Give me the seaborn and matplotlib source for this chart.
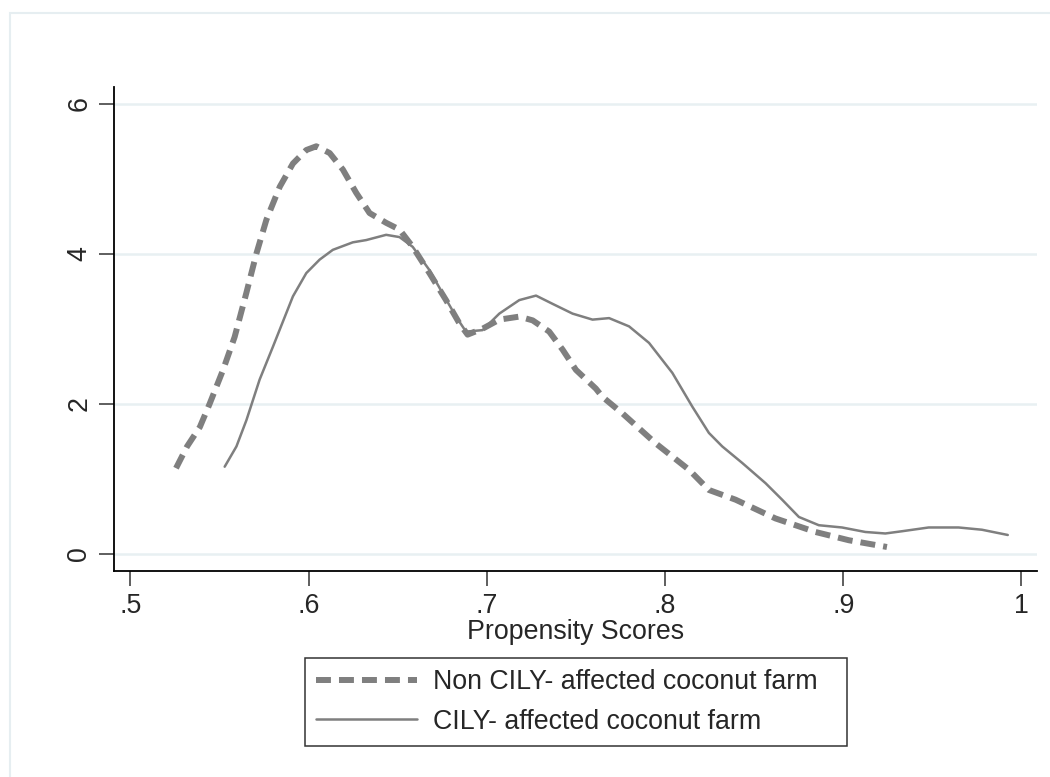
import matplotlib
matplotlib.use("Agg")
import matplotlib.pyplot as plt
import seaborn as sns
import pandas as pd
from matplotlib.patches import Rectangle

# ---- data ----
non_x = [0.5256, 0.5318, 0.5390, 0.5445, 0.5520, 0.5585, 0.5650, 0.5707, 0.5763, 0.5838,
         0.5912, 0.5987, 0.6043, 0.6118, 0.6192, 0.6267, 0.6342, 0.6435, 0.6510, 0.6584,
         0.6678, 0.6771, 0.6846, 0.6892, 0.6977, 0.7070, 0.7182, 0.7257, 0.7350, 0.7425,
         0.7500, 0.7612, 0.7649, 0.7761, 0.7948, 0.8134, 0.8246, 0.8396, 0.8620, 0.8844,
         0.9031, 0.9245]
non_y = [1.14, 1.43, 1.69, 2.00, 2.45, 2.89, 3.47, 4.00, 4.45, 4.89,
         5.20, 5.38, 5.43, 5.34, 5.12, 4.81, 4.54, 4.41, 4.32, 4.09,
         3.74, 3.38, 3.07, 2.92, 3.00, 3.12, 3.16, 3.11, 2.96, 2.72,
         2.45, 2.20, 2.09, 1.87, 1.47, 1.12, 0.85, 0.72, 0.47, 0.29,
         0.18, 0.09]

cily_x = [0.5529, 0.5595, 0.5651, 0.5725, 0.5800, 0.5912, 0.5987, 0.6062, 0.6136, 0.6248,
          0.6323, 0.6435, 0.6510, 0.6584, 0.6678, 0.6752, 0.6827, 0.6883, 0.6976, 0.7070,
          0.7182, 0.7276, 0.7369, 0.7481, 0.7593, 0.7686, 0.7798, 0.7910, 0.8041, 0.8153,
          0.8246, 0.8321, 0.8433, 0.8564, 0.8657, 0.8751, 0.8863, 0.8993, 0.9124, 0.9236,
          0.9330, 0.9479, 0.9647, 0.9778, 0.9923]
cily_y = [1.16, 1.43, 1.78, 2.32, 2.76, 3.43, 3.74, 3.92, 4.05, 4.15,
          4.18, 4.25, 4.22, 4.09, 3.78, 3.47, 3.16, 2.96, 2.98, 3.20,
          3.38, 3.44, 3.33, 3.20, 3.12, 3.14, 3.03, 2.81, 2.41, 1.96,
          1.61, 1.43, 1.21, 0.94, 0.72, 0.49, 0.38, 0.35, 0.29, 0.27,
          0.30, 0.35, 0.35, 0.32, 0.25]

labels = ["Non CILY- affected coconut farm", "CILY- affected coconut farm"]
x_ticks = [0.5, 0.6, 0.7, 0.8, 0.9, 1.0]
x_tick_labels = [".5", ".6", ".7", ".8", ".9", "1"]
y_ticks = [0, 2, 4, 6]
y_tick_labels = ["0", "2", "4", "6"]
x_title = "Propensity Scores"

# ---- styling ----
sns.set_style("white")
plt.rcParams["font.family"] = ["Liberation Sans", "DejaVu Sans"]
FS = 19.3
GRAY = "#7f7f7f"

fig = plt.figure(figsize=(10.5, 7.77), dpi=100)
W, H = 1050, 777
ax = fig.add_axes([114 / W, 1 - 571 / H, (1037 - 114) / W, (571 - 87) / H])

# outer frame (graph region border)
fig.patches.append(Rectangle((10 / W, -0.05), 1.1, 1 - 13 / H + 0.05, transform=fig.transFigure,
                             fill=False, edgecolor="#e6eef1", linewidth=1.5, zorder=0))

df_non = pd.DataFrame({"x": non_x, "y": non_y})
df_cily = pd.DataFrame({"x": cily_x, "y": cily_y})

sns.lineplot(data=df_non, x="x", y="y", ax=ax, color=GRAY, linewidth=4.3,
             linestyle=(0, (2.5, 1.35)), sort=False, estimator=None, label=labels[0])
sns.lineplot(data=df_cily, x="x", y="y", ax=ax, color=GRAY, linewidth=1.8,
             sort=False, estimator=None, label=labels[1])

ax.set_xlim(0.4908, 1.0087)
ax.set_ylim(-0.23, 6.22)
ax.set_xticks(x_ticks)
ax.set_xticklabels(x_tick_labels)
ax.set_yticks(y_ticks)
ax.set_yticklabels(y_tick_labels, rotation=90, va="center")
ax.set_xlabel(x_title, fontsize=FS, labelpad=0)
ax.set_ylabel("")

for y in y_ticks:
    ax.axhline(y, color="#e8f0f2", linewidth=1.8, zorder=0)

ax.tick_params(axis="both", which="major", direction="out", length=10.5, width=1.1,
               color="#333333", labelsize=FS, bottom=True, left=True)
ax.tick_params(axis="x", pad=5)
ax.tick_params(axis="y", pad=5)
for side in ["top", "right"]:
    ax.spines[side].set_visible(False)
for side in ["left", "bottom"]:
    ax.spines[side].set_color("black")
    ax.spines[side].set_linewidth(1.3)

ax.get_legend().remove()
handles = ax.get_lines()[:2]
leg = fig.legend(handles=handles, labels=labels, loc="upper left", mode="expand",
                 bbox_to_anchor=(305 / W, 1 - 658 / H, 542 / W, 0), fontsize=FS, frameon=True,
                 fancybox=False, shadow=False, framealpha=1, edgecolor="#333333",
                 handlelength=3.75, handletextpad=0.6, labelspacing=0.5, borderpad=0.42,
                 borderaxespad=0)
leg.get_frame().set_linewidth(1.1)

fig.savefig("out.png", dpi=100)
